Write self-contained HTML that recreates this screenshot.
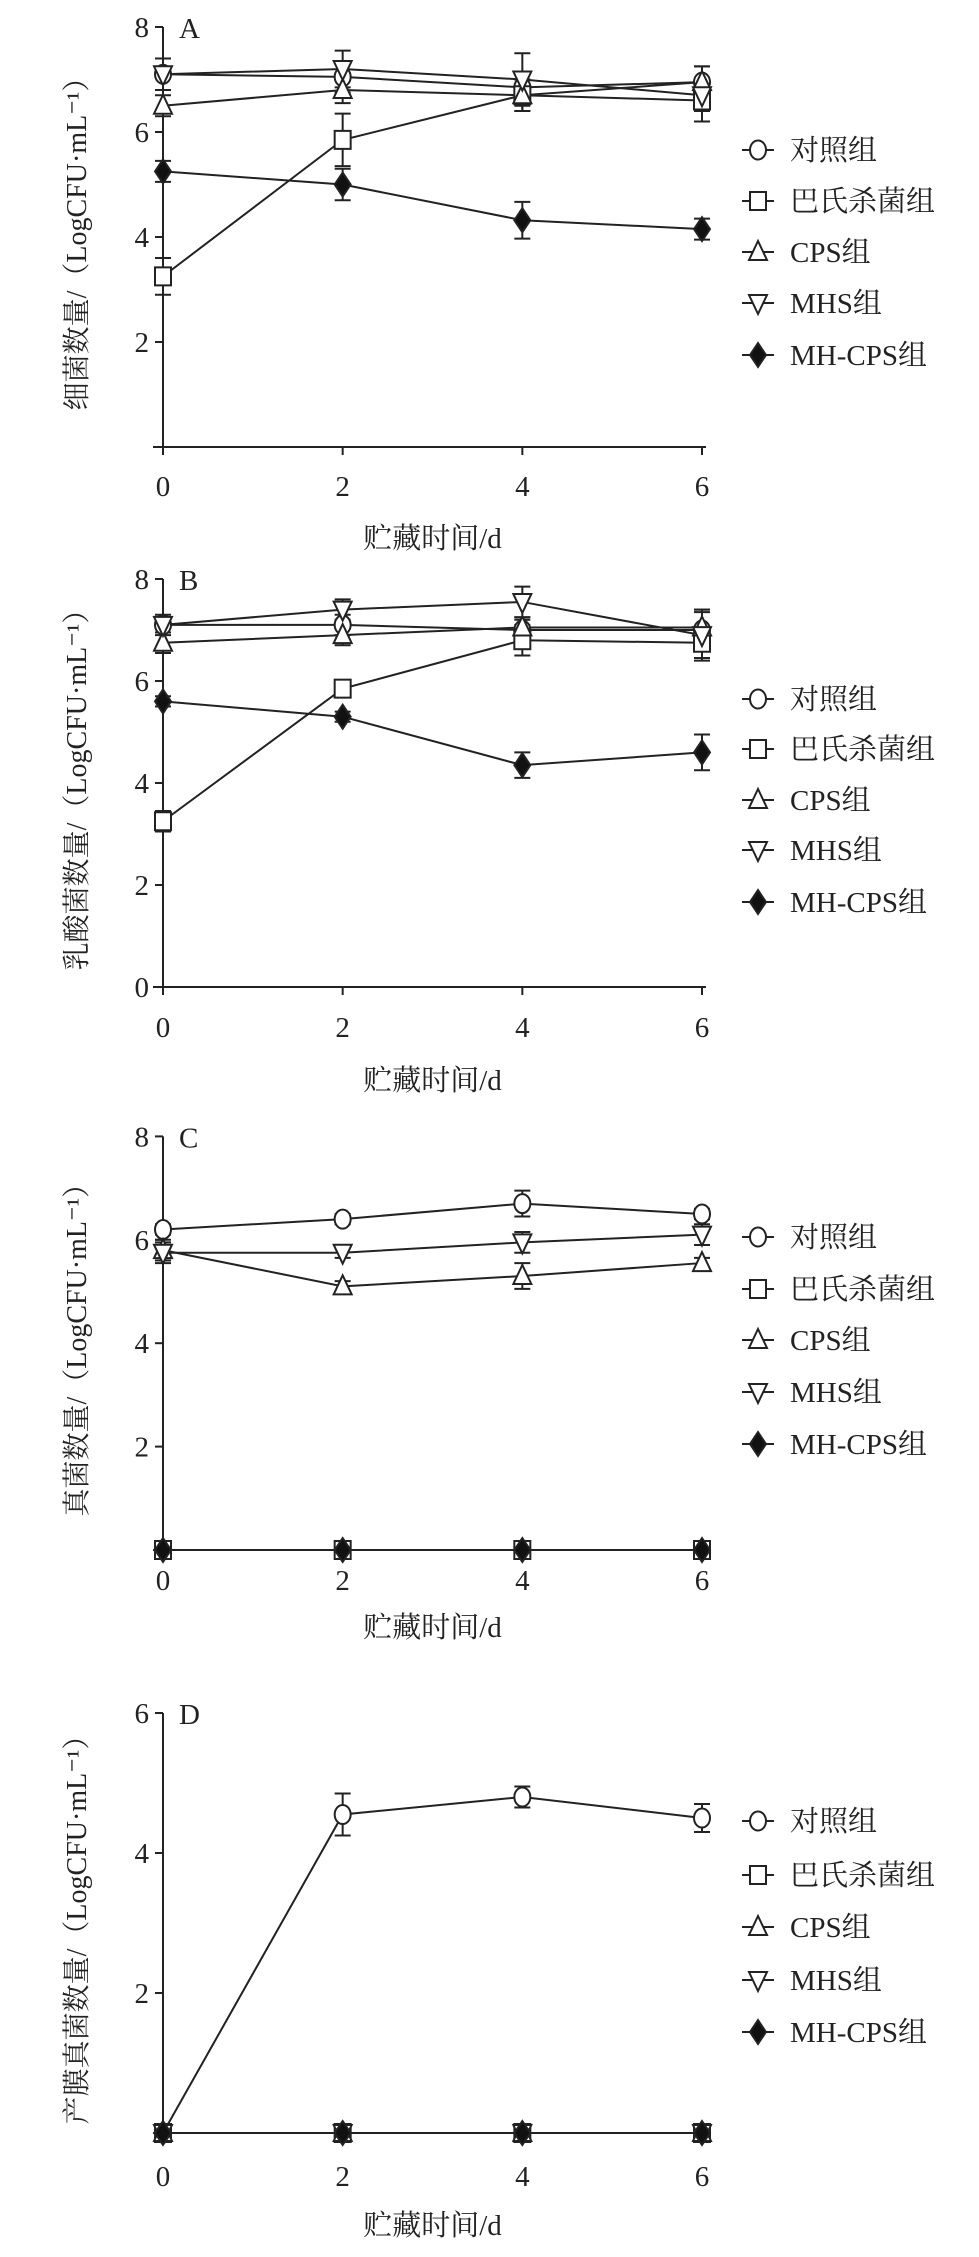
<!DOCTYPE html>
<html><head><meta charset="utf-8"><style>
html,body{margin:0;padding:0;background:#fff;}
svg text{font-family:"Liberation Serif","Noto Serif CJK SC","Noto Sans CJK SC",serif;fill:#222;}
</style></head><body>
<svg id="s" xmlns="http://www.w3.org/2000/svg" width="979" height="2252" viewBox="0 0 979 2252"></svg>
<script>
const S=document.getElementById('s');
let h='';
const panels=[
 {y0:447,u:52.5,top:8,ticks:[2,4,6,8],letter:'A',ylab:'细菌数量/（LogCFU·mL⁻¹）',tl:486,xl:538,leg:[150,201,252,303,355],
  d:[[7.1,7.05,6.85,6.95],[3.25,5.85,6.7,6.6],[6.5,6.8,6.7,6.95],[7.1,7.2,7.0,6.7],[5.25,5.0,4.32,4.15]],
  e:[[0.3,0.3,0.3,0.3],[0.35,0.5,0.3,0.4],[0.2,0.25,0.3,0.3],[0.3,0.35,0.5,0.3],[0.2,0.3,0.35,0.2]]},
 {y0:987,u:51,top:8,ticks:[0,2,4,6,8],letter:'B',ylab:'乳酸菌数量/（LogCFU·mL⁻¹）',tl:1027,xl:1080,leg:[699,749,800,850,902],
  d:[[7.1,7.1,7.0,7.0],[3.25,5.85,6.8,6.75],[6.75,6.9,7.05,7.05],[7.1,7.4,7.55,6.9],[5.6,5.3,4.35,4.6]],
  e:[[0.15,0.2,0.2,0.4],[0.2,0.1,0.3,0.3],[0.2,0.2,0.2,0.3],[0.2,0.2,0.3,0.5],[0.1,0.1,0.25,0.35]]},
 {y0:1550,u:51.7,top:8,ticks:[2,4,6,8],letter:'C',ylab:'真菌数量/（LogCFU·mL⁻¹）',tl:1580,xl:1627,leg:[1237,1289,1340,1392,1444],
  d:[[6.2,6.4,6.7,6.5],[0,0,0,0],[5.8,5.1,5.3,5.55],[5.75,5.75,5.95,6.1],[0,0,0,0]],
  e:[[0.1,0.1,0.25,0.1],[0,0,0,0],[0.2,0.1,0.25,0.1],[0.2,0.1,0.2,0.2],[0.1,0.1,0.1,0.1]]},
 {y0:2133,u:70,top:6,ticks:[2,4,6],letter:'D',ylab:'产膜真菌数量/（LogCFU·mL⁻¹）',tl:2176,xl:2225,leg:[1821,1875,1927,1980,2032],
  d:[[0,4.55,4.8,4.5],[0,0,0,0],[0,0,0,0],[0,0,0,0],[0,0,0,0]],
  e:[[0,0.3,0.15,0.2],[0,0,0,0],[0,0,0,0],[0,0,0,0],[0.1,0.1,0.1,0.1]]}
];
const X0=163,XU=(702-163)/6;
const names=['对照组','巴氏杀菌组','CPS组','MHS组','MH-CPS组'];
function mk(t,x,y){
 const st='stroke="#222" stroke-width="2"';
 if(t==0)return `<ellipse cx="${x}" cy="${y}" rx="8" ry="9.5" fill="#fff" ${st}/>`;
 if(t==1)return `<rect x="${x-8}" y="${y-9}" width="16" height="18" fill="#fff" ${st}/>`;
 if(t==2)return `<polygon points="${x},${y-11} ${x-9},${y+8} ${x+9},${y+8}" fill="#fff" ${st}/>`;
 if(t==3)return `<polygon points="${x},${y+11} ${x-9},${y-8} ${x+9},${y-8}" fill="#fff" ${st}/>`;
 return `<polygon points="${x},${y-12} ${x-8},${y} ${x},${y+12} ${x+8},${y}" fill="#111" ${st}/>`;
}
panels.forEach(p=>{
 const Y=v=>p.y0-v*p.u, ytop=Y(p.top);
 h+=`<line x1="${X0}" y1="${ytop}" x2="${X0}" y2="${p.y0}" stroke="#222" stroke-width="2"/>`;
 h+=`<line x1="${X0-10}" y1="${p.y0}" x2="706" y2="${p.y0}" stroke="#222" stroke-width="2"/>`;
 p.ticks.forEach(t=>{const y=Y(t);h+=`<line x1="${X0-8}" y1="${y}" x2="${X0}" y2="${y}" stroke="#222" stroke-width="2"/><text x="${X0-14}" y="${y+10}" font-size="29" text-anchor="end">${t}</text>`;});
 [0,2,4,6].forEach(t=>{const x=X0+t*XU;h+=`<line x1="${x}" y1="${p.y0}" x2="${x}" y2="${p.y0+8}" stroke="#222" stroke-width="2"/><text x="${x}" y="${p.tl+10}" font-size="29" text-anchor="middle">${t}</text>`;});
 h+=`<text x="${X0+16}" y="${ytop+11}" font-size="29">${p.letter}</text>`;
 h+=`<text x="${(X0+702)/2}" y="${p.xl+10}" font-size="29" text-anchor="middle">贮藏时间/d</text>`;
 const cy=(ytop+p.y0)/2;
 h+=`<text transform="translate(86,${cy}) rotate(-90)" font-size="28" text-anchor="middle">${p.ylab}</text>`;
 for(let s=0;s<5;s++){
  const pts=p.d[s].map((v,i)=>[X0+i*2*XU,Y(v)]);
  h+=`<polyline points="${pts.map(q=>q.join(',')).join(' ')}" fill="none" stroke="#222" stroke-width="2"/>`;
 }
 for(let s=0;s<5;s++){
  p.d[s].forEach((v,i)=>{const x=X0+i*2*XU,e=p.e[s][i];
   if(e>0){const a=Y(v+e),b=Y(v-e);h+=`<path d="M${x},${a}V${b}M${x-8},${a}H${x+8}M${x-8},${b}H${x+8}" stroke="#222" stroke-width="2"/>`;}
  });
 }
 for(let s=0;s<5;s++){p.d[s].forEach((v,i)=>{h+=mk(s,X0+i*2*XU,Y(v));});}
 p.leg.forEach((y,s)=>{h+=`<line x1="742" y1="${y}" x2="774" y2="${y}" stroke="#222" stroke-width="2"/>`+mk(s,758,y)+`<text x="790" y="${y+10}" font-size="29">${names[s]}</text>`;});
});
S.innerHTML=h;
</script>
</body></html>
